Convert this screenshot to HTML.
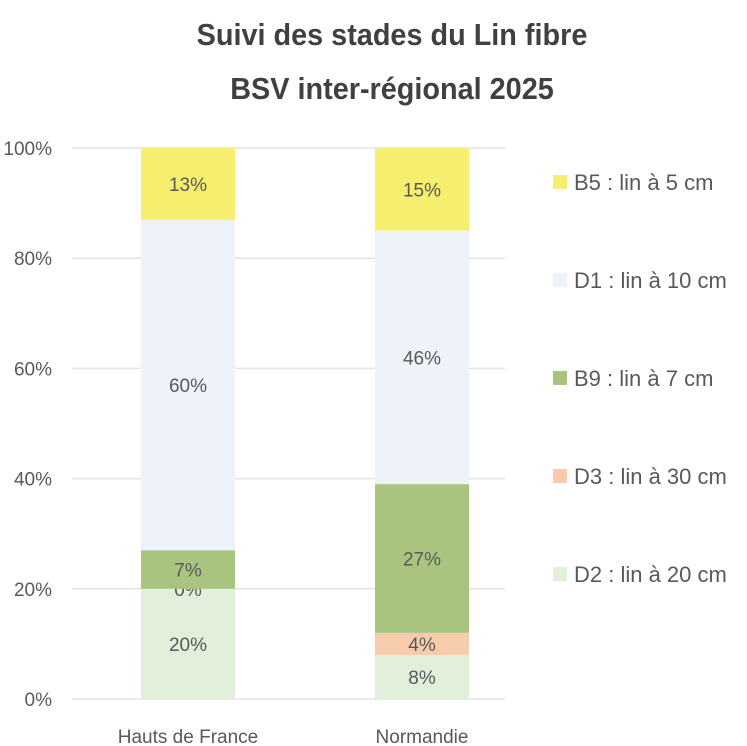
<!DOCTYPE html>
<html><head><meta charset="utf-8"><style>
body{margin:0;background:#fff;}
svg{display:block;font-family:"Liberation Sans",sans-serif;}
</style></head><body>
<svg id="chart" width="747" height="746">
<text x="392" y="45" text-anchor="middle" font-size="31" font-weight="bold" fill="#404040" transform="scale(0.93,1)" transform-origin="392 45">Suivi des stades du Lin fibre</text>
<text x="392" y="99" text-anchor="middle" font-size="31" font-weight="bold" fill="#404040" transform="scale(0.93,1)" transform-origin="392 99">BSV inter-régional 2025</text>
<g id="grid"></g><g id="bars"></g><g id="legend"></g>
</svg>
<script>
const categories=["Hauts de France","Normandie"];
const seriesNames=["D2 : lin à 20 cm","D3 : lin à 30 cm","B9 : lin à 7 cm","D1 : lin à 10 cm","B5 : lin à 5 cm"];
const seriesColors=["#e2efda","#f8cbad","#a9c47f","#eef2f9","#f6ee6f"];
const d2=[20,8];
const d3=[0,4];
const b9=[7,27];
const d1=[60,46];
const b5=[13,15];
const yTicks=[0,20,40,60,80,100];
const series=[d2,d3,b9,d1,b5];
const NS="http://www.w3.org/2000/svg";
const y0=699,y1=148,x0=72,x1=505;
const yS=v=>y0-(v/100)*(y0-y1);
const barW=94, centers=[188,422];
function mk(tag,attrs,parent){const e=document.createElementNS(NS,tag);for(const k in attrs)e.setAttribute(k,attrs[k]);parent.appendChild(e);return e;}
const grid=document.getElementById('grid');
yTicks.forEach(t=>{
 const l=mk('line',{x1:x0,x2:x1,y1:yS(t),y2:yS(t),stroke:'#e3e3e3','stroke-width':1.5},grid);
 
 
 const tx=mk('text',{x:52,y:yS(t)+7,'text-anchor':'end','font-size':19,fill:'#595959'},grid);
 tx.textContent=t+'%';
 
 
});
const bars=document.getElementById('bars');
categories.forEach((c,i)=>{
 let acc=0;
 series.forEach((s,j)=>{
  const v=s[i];const yb=yS(acc),yt=yS(acc+v);
  const r=mk('rect',{x:centers[i]-barW/2,y:yt,width:barW,height:yb-yt,fill:seriesColors[j]},bars);
  
  
  if(v>0||i===0){
   const t=mk('text',{x:centers[i],y:(yb+yt)/2+7,'text-anchor':'middle','font-size':19,fill:'#595959'},bars);
   t.textContent=v+'%';
   
   
  }
  acc+=v;
 });
 const ct=mk('text',{x:centers[i],y:743,'text-anchor':'middle','font-size':19,fill:'#595959'},bars);
 ct.textContent=c;
 
 
});
const lg=document.getElementById('legend');
const order=[4,3,2,1,0];
order.forEach((j,k)=>{
 const y=185+k*98;
 const r=mk('rect',{x:553,y:y-10,width:14,height:14,fill:seriesColors[j]},lg);
 
 
 const t=mk('text',{x:574,y:y+5,'font-size':22,fill:'#595959'},lg);
 t.textContent=seriesNames[j];
 
 
});
</script>
</body></html>
